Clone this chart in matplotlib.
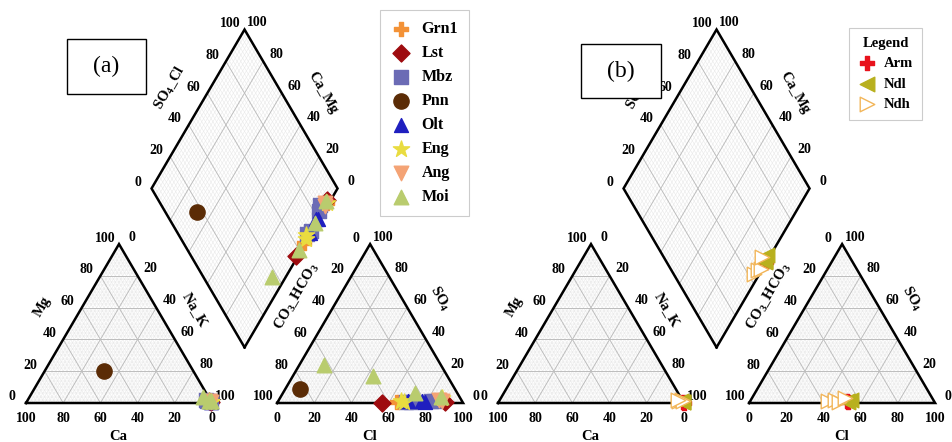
import numpy as np
import matplotlib.pyplot as plt
from matplotlib.collections import LineCollection
from matplotlib.patches import Rectangle

plt.rcParams['font.family'] = ['Liberation Serif', 'DejaVu Serif']
plt.rcParams['mathtext.fontset'] = 'custom'
plt.rcParams['mathtext.rm'] = 'Liberation Serif:bold'
plt.rcParams['mathtext.bf'] = 'Liberation Serif:bold'
plt.rcParams['mathtext.it'] = 'Liberation Serif:bold'
plt.rcParams['mathtext.default'] = 'bf'

# ---- sample compositions (% meq) ----------------------------------------
# panel (a)
a_groups = ['Grn1', 'Lst', 'Mbz', 'Pnn', 'Olt', 'Eng', 'Ang', 'Moi']
a_nak = {'Grn1': [99, 99], 'Lst': [99, 98], 'Mbz': [98, 97, 96, 99],
         'Pnn': [32], 'Olt': [99, 98, 99], 'Eng': [99, 98, 99],
         'Ang': [99, 98], 'Moi': [93, 99, 99, 98]}
a_mg = {'Grn1': [0.5, 1], 'Lst': [0.5, 1], 'Mbz': [1, 1, 2, 0.5],
        'Pnn': [20], 'Olt': [0.5, 1, 0.5], 'Eng': [0.5, 1, 0.5],
        'Ang': [0.5, 1], 'Moi': [4, 1, 1, 1]}
a_cl = {'Grn1': [64, 88], 'Lst': [56.5, 90], 'Mbz': [69, 82, 84, 72],
        'Pnn': [8], 'Olt': [70, 77, 79], 'Eng': [66, 68, 87],
        'Ang': [86, 88], 'Moi': [13, 43, 71, 86]}
a_so4 = {'Grn1': [0.5, 2], 'Lst': [0, 0.5], 'Mbz': [0.5, 1, 1.5, 0.5],
         'Pnn': [9], 'Olt': [1, 1.5, 0.5], 'Eng': [1, 0.5, 3],
         'Ang': [2, 1], 'Moi': [24, 17, 6, 4]}

# panel (b)
b_groups = ['Arm', 'Ndl', 'Ndh']
b_nak = {'Arm': [99, 100], 'Ndl': [99, 98, 99], 'Ndh': [97, 98, 99, 96]}
b_mg = {'Arm': [0.5, 0], 'Ndl': [0.5, 1, 0.5], 'Ndh': [1, 2, 1, 2]}
b_cl = {'Arm': [52, 53], 'Ndl': [52, 54, 53], 'Ndh': [42, 45, 48, 50]}
b_so4 = {'Arm': [1, 0.5], 'Ndl': [1, 2, 0.5], 'Ndh': [1, 2, 0.5, 3]}

styles = {
    'Grn1': dict(marker='P', s=110, color='#f39237'),
    'Lst': dict(marker='D', s=75, color='#9e0b0f'),
    'Mbz': dict(marker='s', s=110, color='#6b6bb5'),
    'Pnn': dict(marker='o', s=120, color='#5b2c06'),
    'Olt': dict(marker='^', s=100, color='#1f1fbf'),
    'Eng': dict(marker='*', s=150, color='#e9dc40'),
    'Ang': dict(marker='v', s=110, color='#f4a375'),
    'Moi': dict(marker='^', s=110, color='#b9cc6e'),
    'Arm': dict(marker='P', s=110, color='#e8121c'),
    'Ndl': dict(marker='<', s=110, color='#b8b01e'),
    'Ndh': dict(marker='>', s=110, facecolor='white', edgecolor='#f2b65a',
                linewidths=1.0),
}

# ---- geometry -------------------------------------------------------------
W, HPX = 952, 442
SX, SY = 186.0, 183.5          # pixels per unit side
X0, Y0 = 26.0, 403.0           # pixel position of panel (a) origin
H = np.sqrt(3) / 2
GAP = 0.35
BX, BY = 1 + GAP / 2, GAP / 2 * np.sqrt(3)
SHIFT_B = 472 / SX


def px(x, y):
    return (x - X0) / SX, (Y0 - y) / SY


def cation_xy(nak, mg, ox):
    nak, mg = np.asarray(nak) / 100, np.asarray(mg) / 100
    return ox + nak + mg / 2, mg * H


def anion_xy(cl, so4, ox):
    cl, so4 = np.asarray(cl) / 100, np.asarray(so4) / 100
    return ox + 1 + GAP + cl + so4 / 2, so4 * H


def diamond_xy(nak, cl, so4, ox):
    q = (np.asarray(cl) + np.asarray(so4)) / 100
    cm = 1 - np.asarray(nak) / 100
    return ox + BX + 0.5 * (q - cm), BY + H * (q + cm)


def grid_segments(shape, steps):
    segs = []
    if len(shape) == 3:
        a, b, c = shape
        for f in steps:
            segs.append([a + f * (c - a), b + f * (c - b)])
            segs.append([a + f * (b - a), c + f * (b - c)])
            segs.append([b + f * (a - b), c + f * (a - c)])
    else:
        bd, r, t, l = shape
        for f in steps:
            segs.append([bd + f * (l - bd), r + f * (t - r)])
            segs.append([bd + f * (r - bd), l + f * (t - l)])
    return segs


def edge_labels(ax, p0, p100, dx, dy):
    for v in range(0, 101, 20):
        f = v / 100
        x = p0[0] + f * (p100[0] - p0[0]) + dx / SX
        y = p0[1] + f * (p100[1] - p0[1]) + dy / SY
        ax.text(x, y, str(v), ha='center', va='center', fontsize=10,
                fontweight='bold')


def draw_frame(ax, ox):
    ca = [np.array(p) for p in [(ox, 0), (ox + 1, 0), (ox + 0.5, H)]]
    an = [np.array(p) for p in [(ox + 1 + GAP, 0), (ox + 2 + GAP, 0),
                                (ox + 1.5 + GAP, H)]]
    dm = [np.array(p) for p in [(ox + BX, BY), (ox + BX + 0.5, BY + H),
                                (ox + BX, BY + 2 * H), (ox + BX - 0.5, BY + H)]]
    fine = [f for f in np.arange(0.02, 1.0, 0.02) if abs(f * 5 - round(f * 5)) > 1e-6]
    major = [0.2, 0.4, 0.6, 0.8]
    for shape in (ca, an, dm):
        ax.add_collection(LineCollection(grid_segments(shape, fine),
                                         colors='#e6e6e6', linewidths=0.35, zorder=1))
        ax.add_collection(LineCollection(grid_segments(shape, major),
                                         colors='#bdbdbd', linewidths=0.7, zorder=2))
        pts = np.vstack(shape + [shape[0]])
        ax.plot(pts[:, 0], pts[:, 1], color='black', lw=1.8, zorder=3,
                solid_joinstyle='miter')

    a, b, c = ca
    edge_labels(ax, b, a, 0, -15)
    edge_labels(ax, a, c, -14, 6)
    edge_labels(ax, c, b, 13, 7)
    a, b, c = an
    edge_labels(ax, a, b, 0, -15)
    edge_labels(ax, c, a, -14, 6)
    edge_labels(ax, b, c, 13, 7)
    bd, r, t, l = dm
    edge_labels(ax, l, t, -14, 6)
    edge_labels(ax, r, t, 13, 7)

    sh = ox * SX
    titles = [('Ca', 118, 437, 0), ('Cl', 370, 437, 0),
              ('Mg', 42, 307, 60), (r'$Na\_K$', 194, 310, -60),
              (r'$CO_3\_HCO_3$', 297, 296, 60), (r'$SO_4$', 440, 298, -60),
              (r'$SO_4\_Cl$', 170, 88, 60), (r'$Ca\_Mg$', 323, 93, -60)]
    for txt, x, y, rot in titles:
        tx, ty = px(x + sh, y)
        ax.text(tx, ty, txt, ha='center', va='center', rotation=rot,
                fontsize=10.5, fontweight='bold')


def draw_samples(ax, groups, nak, mg, cl, so4, ox):
    handles = []
    for g in groups:
        st = styles[g]
        for xy in (cation_xy(nak[g], mg[g], ox), anion_xy(cl[g], so4[g], ox),
                   diamond_xy(nak[g], cl[g], so4[g], ox)):
            h = ax.scatter(xy[0], xy[1], zorder=5, clip_on=False, label=g, **st)
        handles.append(h)
    return handles


fig = plt.figure(figsize=(W / 100, HPX / 100), dpi=100)
ax = fig.add_axes([0, 0, 1, 1])
ax.set_xlim(-X0 / SX, (W - X0) / SX)
ax.set_ylim(-(HPX - Y0) / SY, Y0 / SY)
ax.axis('off')

draw_frame(ax, 0)
draw_frame(ax, SHIFT_B)
ha = draw_samples(ax, a_groups, a_nak, a_mg, a_cl, a_so4, 0)
hb = draw_samples(ax, b_groups, b_nak, b_mg, b_cl, b_so4, SHIFT_B)

# panel tags
for (x0, y0, x1, y1), tag in [((67, 39, 146, 94), '(a)'), ((581, 44, 661, 98), '(b)')]:
    fx, fy = x0 / W, 1 - y1 / HPX
    fig.patches.append(Rectangle((fx, fy), (x1 - x0) / W, (y1 - y0) / HPX,
                                 transform=fig.transFigure, facecolor='white',
                                 edgecolor='black', lw=1.0, zorder=10))
    fig.text((x0 + x1) / 2 / W, 1 - (y0 + y1) / 2 / HPX, tag, ha='center',
             va='center', fontsize=17, zorder=11)

leg_a = fig.legend(handles=ha, loc='upper left', bbox_to_anchor=(380 / W, 1 - 10 / HPX),
                   borderaxespad=0, fancybox=False, edgecolor='#cccccc',
                   prop=dict(family='Liberation Serif', weight='bold', size=11.5),
                   handlelength=1.2, handletextpad=0.7, labelspacing=0.5,
                   borderpad=0.7, framealpha=1, scatterpoints=1)
leg_a.get_frame().set_linewidth(0.8)
leg_b = fig.legend(handles=hb, loc='upper left', bbox_to_anchor=(849 / W, 1 - 28 / HPX),
                   borderaxespad=0, fancybox=False, edgecolor='#cccccc',
                   title='Legend', title_fontproperties=dict(family='Liberation Serif',
                                                             weight='bold', size=10.5),
                   prop=dict(family='Liberation Serif', weight='bold', size=10.5),
                   handlelength=1.2, handletextpad=0.6, labelspacing=0.5,
                   borderpad=0.6, framealpha=1, scatterpoints=1)
leg_b.get_frame().set_linewidth(0.8)

fig.savefig('out.png', dpi=100)
